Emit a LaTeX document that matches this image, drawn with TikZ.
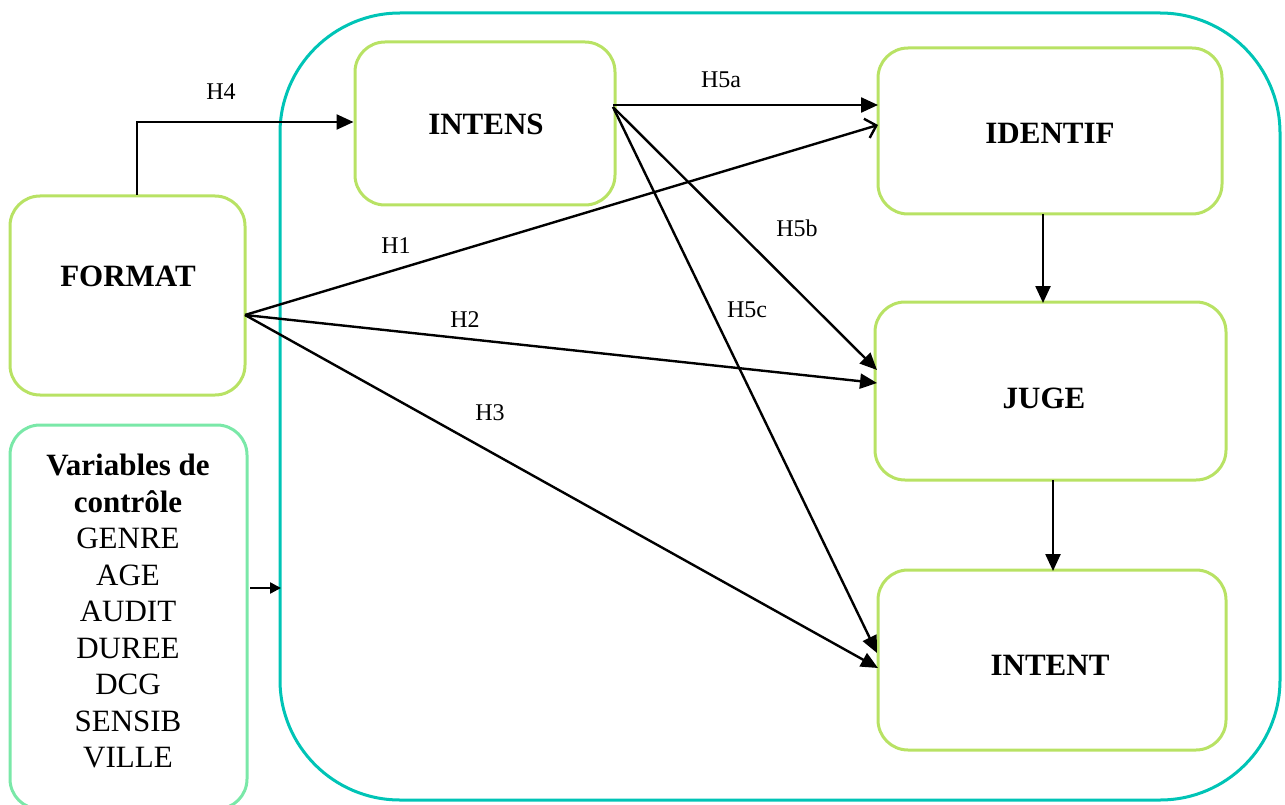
\documentclass[tikz,border=0pt]{standalone}
\usepackage{fontspec}
\setmainfont{Liberation Serif}
\usetikzlibrary{arrows.meta}
\definecolor{lime}{RGB}{184,226,100}
\definecolor{teal2}{RGB}{0,196,182}
\definecolor{mint}{RGB}{122,232,168}
\begin{document}
\begin{tikzpicture}[x=1pt,y=-1pt,
  box/.style={draw=lime,line width=3pt,rounded corners=30pt,inner sep=0pt},
  big/.style={draw=teal2,line width=3pt,rounded corners=120pt,inner sep=0pt},
  ctrl/.style={draw=mint,line width=3pt,rounded corners=30pt,inner sep=0pt},
  lbl/.style={font=\fontsize{31}{36}\selectfont\bfseries},
  hyp/.style={font=\fontsize{24}{28}\selectfont},
  arr/.style={line width=2.4pt,-{Triangle[length=17pt,width=15pt]}},
  arrsmall/.style={line width=2.4pt,-{Triangle[length=11pt,width=11pt]}},
  arropen/.style={line width=2.4pt,-{Straight Barb[length=10pt,width=20pt,line width=2.4pt]}}]
\useasboundingbox (0,0) rectangle (1285,805);
\begin{scope}
\clip (0,0) rectangle (1285,805);
% boxes
\draw[big] (280,13) rectangle (1280,800);
\node[box,minimum width=260pt,minimum height=163pt] (intens) at (485,123.5) {};
\node[box,minimum width=344pt,minimum height=166pt] (identif) at (1050,131) {};
\node[box,minimum width=351pt,minimum height=178pt] (juge) at (1050.5,391) {};
\node[box,minimum width=348pt,minimum height=180pt] (intent) at (1052,660) {};
\node[box,minimum width=235pt,minimum height=199pt] (format) at (127.5,295.5) {};
\node[ctrl,minimum width=237pt,minimum height=384pt] (ctrlbox) at (128.5,617) {};
\end{scope}
% texts
\node[lbl] (tintens) at (486,124) {INTENS};
\node[lbl] (tidentif) at (1050,133) {IDENTIF};
\node[lbl] (tjuge) at (1044,398) {JUGE};
\node[lbl] (tintent) at (1050,665) {INTENT};
\node[lbl] (tformat) at (128,276) {FORMAT};
\node[align=center,font=\fontsize{31}{36.5}\selectfont] (tctrl) at (128,611)
  {\textbf{Variables de}\\\textbf{contrôle}\\GENRE\\AGE\\AUDIT\\DUREE\\DCG\\SENSIB\\VILLE};
% connector points
\coordinate (fo) at (245,315);
\coordinate (io) at (613,107);
\coordinate (ctrlout) at (250,588);
\coordinate (bigin) at (281,588);
% H4
\draw[arr] (137,195) -- (137,122) -- (intens.west |- 0,122);
\node[hyp] (h4) at (221,92) {H4};
% H5a
\draw[arr] (613,105) -- (878,105);
\node[hyp] (h5a) at (721,80) {H5a};
% H1
\draw[arropen] (fo) -- (878,125);
\node[hyp] (h1) at (396,246) {H1};
% H2
\draw[arr] (fo) -- (877,383);
\node[hyp] (h2) at (465,320) {H2};
% H3
\draw[arr] (fo) -- (878,668);
\node[hyp] (h3) at (490,413) {H3};
% H5b
\draw[arr] (io) -- (877,370);
\node[hyp] (h5b) at (797,228) {H5b};
% H5c
\draw[arr] (io) -- (877,653);
\node[hyp] (h5c) at (747,310) {H5c};
% vertical
\draw[arr] (1043,214) -- (1043,303);
\draw[arr] (1053,480) -- (1053,571);
% control
\draw[arrsmall] (ctrlout) -- (bigin);
\end{tikzpicture}
\end{document}
